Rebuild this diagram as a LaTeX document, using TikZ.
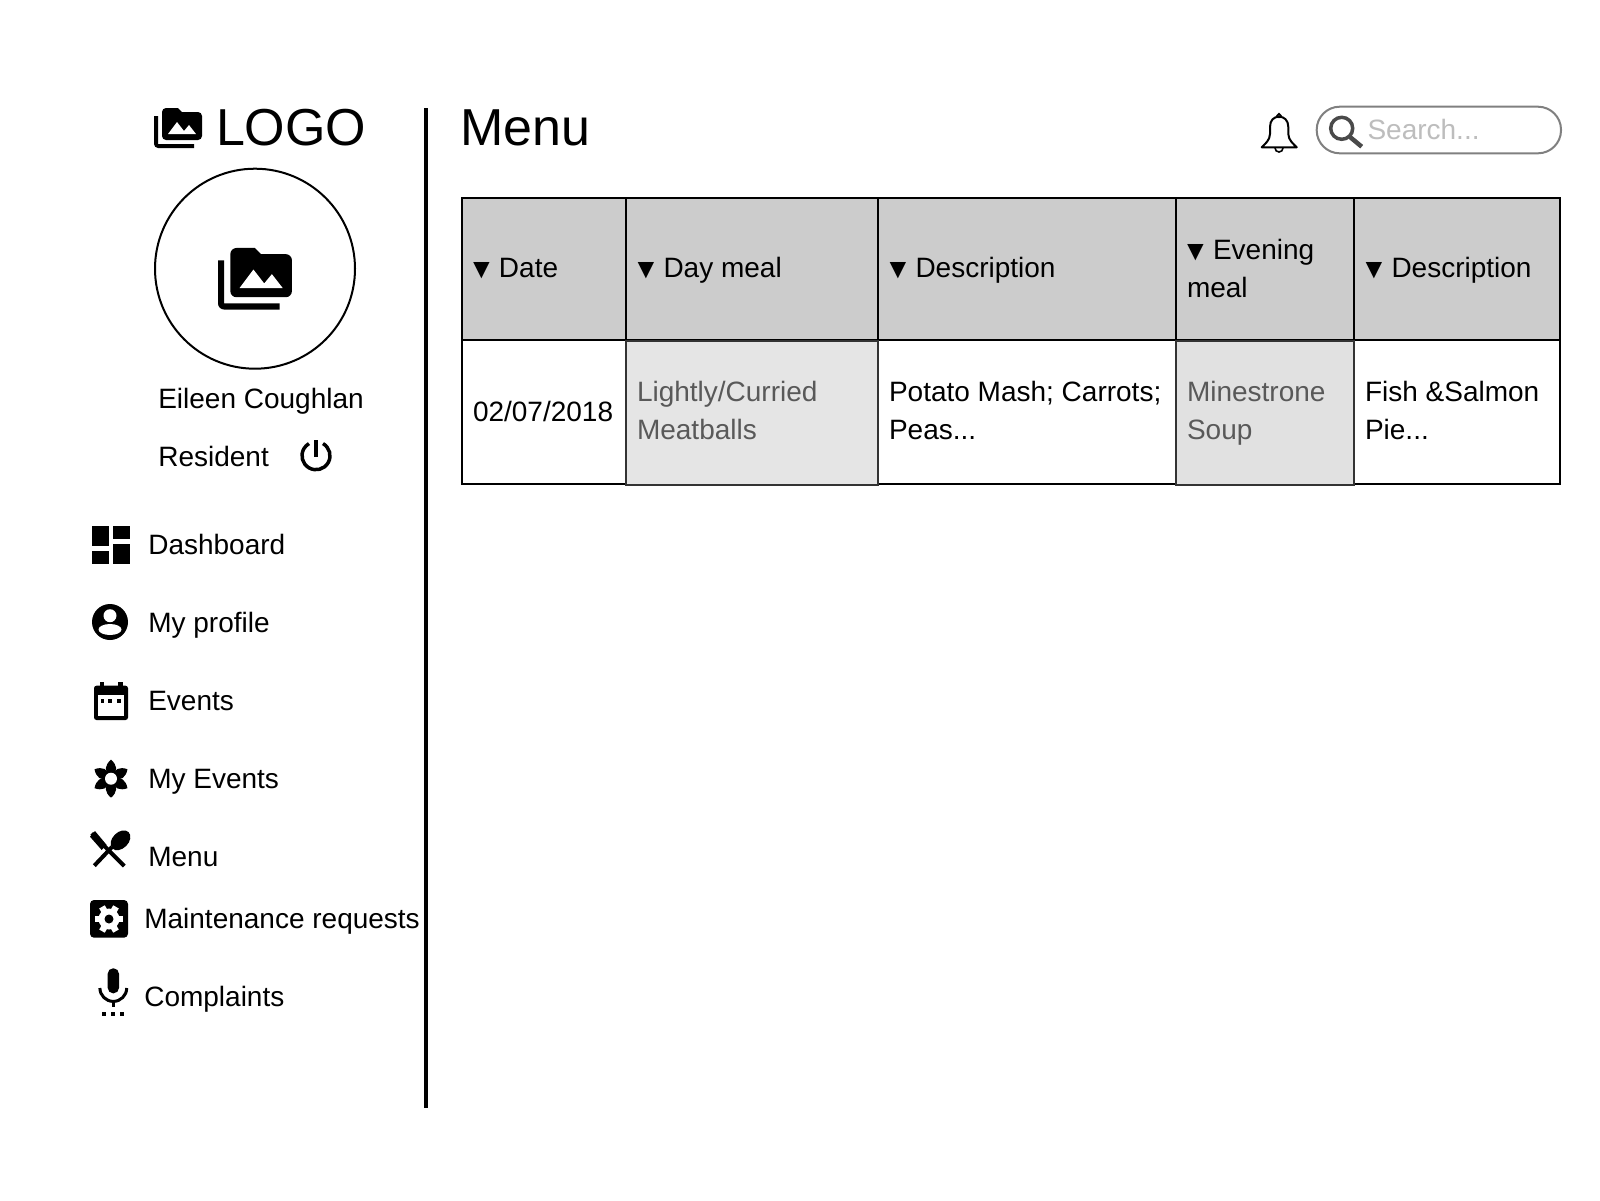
\documentclass[tikz,border=0pt]{standalone}
\usepackage{fontspec}
\setmainfont{Liberation Sans}
\newcommand{\mediaicon}[3]{%
\begin{scope}[shift={(#1,#2)},x=#3pt,y=-#3pt]
\fill[black] (2,6)--(0,6)--(0,20) .. controls (0,21.1) and (.9,22) .. (2,22)--(20,22)--(20,20)--(2,20)--cycle;
\fill[black] (22,4)--(14,4)--(12,2)--(6,2) .. controls (4.9,2) and (4.01,2.9) .. (4.01,4)--(4,16) .. controls (4,17.1) and (4.9,18) .. (6,18)--(22,18) .. controls (23.1,18) and (24,17.1) .. (24,16)--(24,6) .. controls (24,4.9) and (23.1,4) .. (22,4)--cycle;
\fill[white] (7,15)--(11.5,9)--(15,13.51)--(17.5,10.5)--(21,15)--cycle;
\end{scope}}
\newcommand{\tri}{\raisebox{-1.2pt}{▼}\kern-4pt{} }
\tikzset{
  txt/.style={inner sep=0pt,outer sep=0pt,anchor=base west,font=\fontsize{28}{33}\selectfont},
  big/.style={inner sep=0pt,outer sep=0pt,anchor=base west,font=\fontsize{52}{60}\selectfont},
  soft/.style={txt,text=softtext},
  headcell/.style={fill=headgrey,draw=black,line width=2pt},
  bodycell/.style={fill=white,draw=black,line width=2pt},
  greycell/.style={draw=cellline,line width=2pt},
}
\definecolor{headgrey}{HTML}{CCCCCC}
\definecolor{cellgreya}{HTML}{E5E5E5}
\definecolor{cellgreyb}{HTML}{E1E1E1}
\definecolor{cellline}{HTML}{333333}
\definecolor{softtext}{HTML}{595959}
\definecolor{searchline}{HTML}{808080}
\definecolor{searchtext}{HTML}{BDBDBD}
\definecolor{glass}{HTML}{4A4A4A}
\begin{document}
\begin{tikzpicture}[x=1pt,y=-1pt]
\useasboundingbox (0,0) rectangle (1600,1200);
\fill[white] (0,0) rectangle (1600,1200);
% sidebar divider
\draw[line width=4pt] (426,108) -- (426,1108);
% logo
\mediaicon{154}{104}{2}
\node[big] (logo) at (216,145) {LOGO};
\node[big] (title) at (460,145) {Menu};
% avatar
\draw[line width=2pt] (255,268.7) circle (100);
\mediaicon{218}{241.8}{3.08}
\node[txt] (name) at (158.3,408) {Eileen Coughlan};
\node[txt] (role) at (158.3,466.2) {Resident};
% power
\draw[line width=3.5pt] (316,455.7) ++(300:14) arc (300:600:14);
\draw[line width=3.5pt] (316,440) -- (316,456.7);
% dashboard icon
\fill (92,526) rectangle (109.3,546);
\fill (92,551.3) rectangle (109.3,563.7);
\fill (113.3,526) rectangle (130,538.7);
\fill (113.3,544) rectangle (130,563.7);
\node[txt] (nav1) at (148.3,554.3) {Dashboard};
% profile icon
\fill (110,622) circle (18);
\fill[white] (110,615.7) circle (6.5);
\fill[white] (110,629.5) ellipse (11.5 and 5.5);
\node[txt] (nav2) at (148.3,632.7) {My profile};
% calendar icon
\fill[rounded corners=2.5pt] (94,685.7) rectangle (128,720);
\fill[white] (98,695) rectangle (124,716);
\fill (100,681.7) rectangle (104.3,687);
\fill (118.3,681.7) rectangle (122.7,687);
\fill (100.7,699.3) rectangle (104.3,702.7);
\fill (107.7,699.3) rectangle (111.7,702.7);
\fill (116.7,699.3) rectangle (120.7,702.7);
\node[txt] (nav3) at (148.3,710.3) {Events};
% flower icon
\foreach \a in {30,90,150,210,270,330}
  \fill[shift={(111,778.7)},rotate=\a] (3,-1) .. controls (7,-7.5) and (14,-6) .. (19,0) .. controls (14,6) and (7,7.5) .. (3,1) -- cycle;
\fill (111,778.7) circle (8);
\fill[white] (111,778.7) circle (6);
\node[txt] (nav4) at (148.3,788.3) {My Events};
% cutlery icon
\draw[line width=4pt] (91.7,833.3) -- (124.3,866);
\fill (90,836.7) -- (95,831) -- (106.7,845) -- (101.7,850) -- cycle;
\draw[line width=4pt] (94.3,865.7) -- (112,847);
\fill[shift={(120.5,840.3)},rotate=45] (0,0) ellipse (11.5 and 8);
\node[txt] (nav5) at (148.3,866.7) {Menu};
% maintenance icon
\fill[rounded corners=4pt] (90,900) rectangle (128,937.7);
\fill[white] (109,919) circle (10.5);
\foreach \a in {0,60,120,180,240,300}
  \fill[white,shift={(109,919)},rotate=\a] (8,-3.2) rectangle (14,3.2);
\fill (109,919) circle (4.5);
\node[txt] (nav6) at (144.3,928.3) {Maintenance requests};
% mic icon
\fill[rounded corners=5.4pt] (107.7,968.3) rectangle (119,993.3);
\draw[line width=3pt] (99.9,988) arc (180:0:13.4);
\draw[line width=3pt] (113.3,1000) -- (113.3,1007.3);
\fill (102.3,1012) rectangle (106,1016);
\fill (111,1012) rectangle (115,1016);
\fill (120,1012) rectangle (124,1016);
\node[txt] (nav7) at (144.3,1006) {Complaints};
% bell
\draw[line width=2pt,line join=round] (1261.7,147.3) .. controls (1265,144) and (1270,140) .. (1270,134) -- (1270,127) .. controls (1270,120) and (1274,116.7) .. (1279,116.7) .. controls (1284,116.7) and (1288.3,120) .. (1288.3,127) -- (1288.3,134) .. controls (1288.3,140) and (1293.5,144) .. (1296.7,147.3) -- cycle;
\draw[line width=1.6pt] (1279,115.5) circle (1.8);
\draw[line width=1.6pt] (1275,148) arc (180:0:4);
% search
\draw[searchline,line width=2pt,rounded corners=23pt] (1316.7,106.7) rectangle (1561,153.3);
\draw[glass,line width=3.5pt] (1341.7,128.3) circle (11);
\draw[glass,line width=4.5pt] (1350,137) -- (1361.7,146.7);
\node[txt,text=searchtext] (search) at (1367.5,139.3) {Search...};
% table
\draw[headcell] (462,198) rectangle (626,339.7);
\draw[headcell] (626,198) rectangle (878,339.7);
\draw[headcell] (878,198) rectangle (1176,339.7);
\draw[headcell] (1176,198) rectangle (1354,339.7);
\draw[headcell] (1354,198) rectangle (1560,339.7);
\draw[bodycell] (462,340) rectangle (626,484);
\draw[bodycell] (878,340) rectangle (1176,484);
\draw[bodycell] (1354,340) rectangle (1560,484);
\draw[greycell,fill=cellgreya] (626,341) rectangle (878,484.5);
\draw[greycell,fill=cellgreyb] (1176,341) rectangle (1354,484.5);
\node[txt] (h1) at (467.5,277.7) {\tri Date};
\node[txt] (h2) at (632,277.7) {\tri Day meal};
\node[txt] (h3) at (884,277.7) {\tri Description};
\node[txt] (h4a) at (1181.5,259.3) {\tri Evening};
\node[txt] (h4b) at (1187,297.7) {meal};
\node[txt] (h5) at (1360,277.7) {\tri Description};
\node[txt] (c1) at (473,421) {02/07/2018};
\node[soft] (c2a) at (637,401) {Lightly/Curried};
\node[soft] (c2b) at (637,439) {Meatballs};
\node[txt] (c3a) at (889,401) {Potato Mash; Carrots;};
\node[txt] (c3b) at (889,439) {Peas...};
\node[soft] (c4a) at (1187,401) {Minestrone};
\node[soft] (c4b) at (1187,439) {Soup};
\node[txt] (c5a) at (1365,401) {Fish \&Salmon};
\node[txt] (c5b) at (1365,439) {Pie...};
\end{tikzpicture}
\end{document}
